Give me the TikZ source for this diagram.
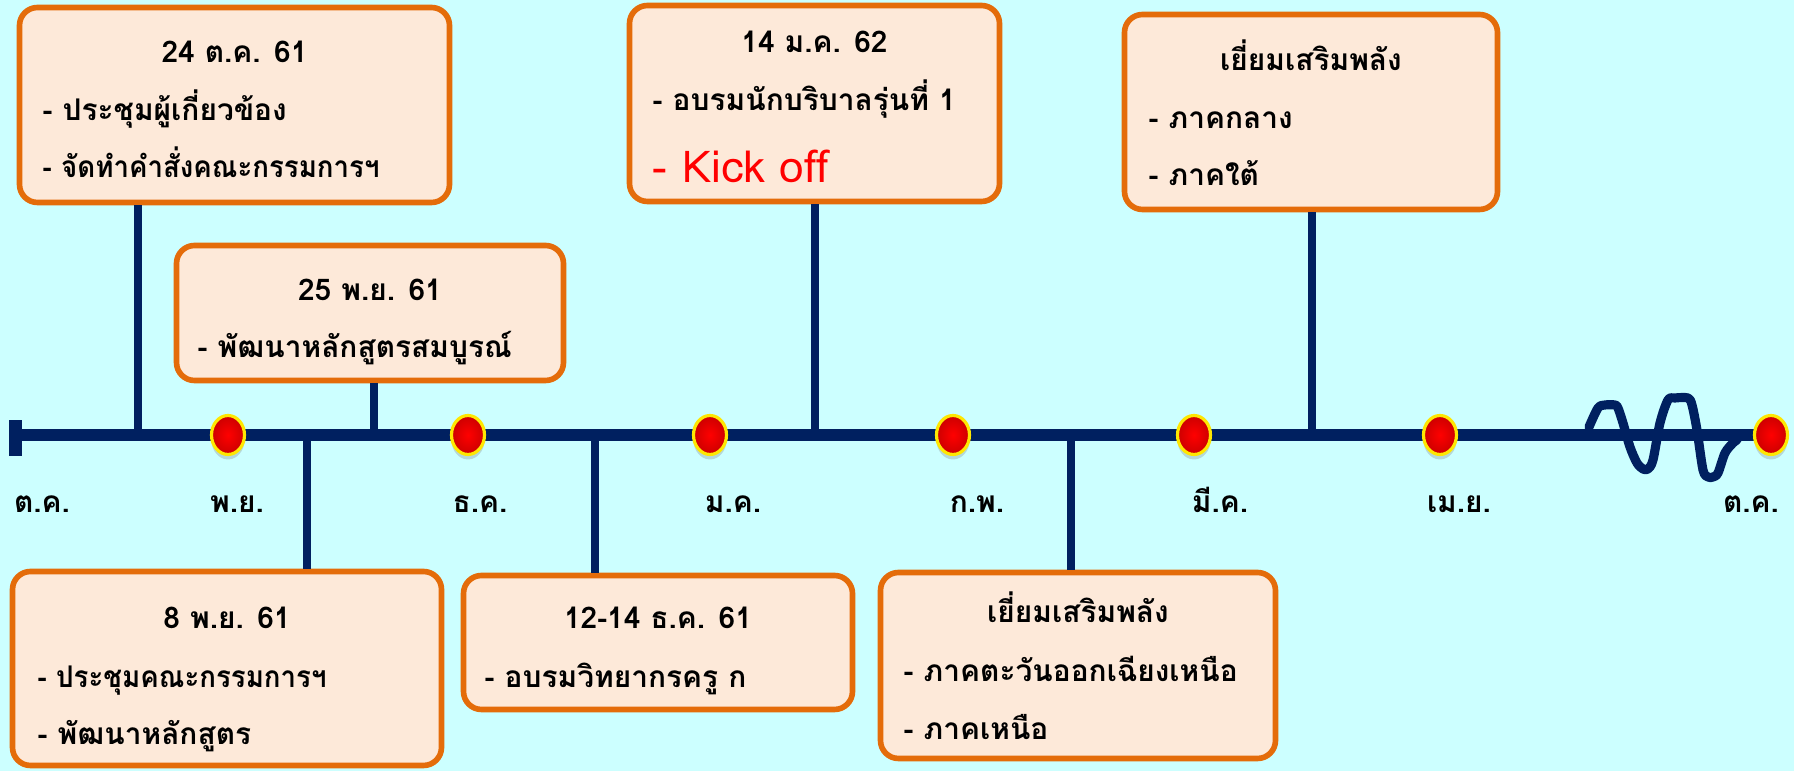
\documentclass[tikz,border=0pt]{standalone}
\usepackage{fontspec}
\newfontfamily\thaifont[Script=Thai]{Loma}
\usetikzlibrary{shapes.geometric, shadows}
\definecolor{bgcyan}{HTML}{CCFFFF}
\definecolor{boxfill}{HTML}{FDE9D9}
\definecolor{boxline}{HTML}{E46C0A}
\definecolor{navy}{HTML}{002060}
\newcommand\narrowtxt{\addfontfeatures{FakeStretch=0.925}}

\begin{document}
\begin{tikzpicture}[
  font=\thaifont\bfseries\fontsize{8.5}{10}\selectfont,
  evbox/.style={draw=boxline, fill=boxfill, line width=1.6pt, rounded corners=0.18cm, inner sep=0},
  txt/.style={inner sep=0, anchor=base},
  itm/.style={inner sep=0, anchor=base west},
  stem/.style={draw=navy, line width=2.4pt},
  dot/.style={ellipse, draw=yellow!90!orange, line width=0.9pt, inner color=red, outer color=red!80!black,
    minimum width=0.33cm, minimum height=0.39cm, inner sep=0,
    drop shadow={shadow xshift=0cm, shadow yshift=-0.05cm, opacity=0.3}},
]
\fill[bgcyan] (0,0) rectangle (17.94,7.71);
\useasboundingbox (0,0) rectangle (17.94,7.71);

% boxes
\node[evbox, minimum width=4.30cm, minimum height=1.95cm] (b1) at (2.345,6.66) {};
\node[evbox, minimum width=3.87cm, minimum height=1.35cm] (b2) at (3.70,4.58) {};
\node[evbox, minimum width=3.70cm, minimum height=1.96cm] (b3) at (8.145,6.675) {};
\node[evbox, minimum width=3.73cm, minimum height=1.95cm] (b4) at (13.11,6.59) {};
\node[evbox, minimum width=4.29cm, minimum height=1.94cm] (b5) at (2.27,1.025) {};
\node[evbox, minimum width=3.89cm, minimum height=1.34cm] (b6) at (6.58,1.285) {};
\node[evbox, minimum width=3.95cm, minimum height=1.86cm] (b7) at (10.78,1.055) {};

\node[txt] (b1t) at (2.345,7.08) {24 ต.ค. 61};
\node[itm] (b1a) at (0.42,6.50) {- ประชุมผู้เกี่ยวข้อง};
\node[itm] (b1b) at (0.42,5.93) {\narrowtxt - จัดทำคำสั่งคณะกรรมการฯ};

\node[txt] (b2t) at (3.70,4.70) {25 พ.ย. 61};
\node[itm] (b2a) at (1.97,4.13) {- พัฒนาหลักสูตรสมบูรณ์};

\node[txt] (b3t) at (8.145,7.18) {14 ม.ค. 62};
\node[itm] (b3a) at (6.52,6.60) {- อบรมนักบริบาลรุ่นที่ 1};
\node[itm, text=red, font=\thaifont\mdseries\fontsize{12.5}{14}\selectfont] (b3b) at (6.52,5.88) {- Kick off};

\node[txt] (b4t) at (13.11,7.00) {เยี่ยมเสริมพลัง};
\node[itm] (b4a) at (11.48,6.42) {- ภาคกลาง};
\node[itm] (b4b) at (11.48,5.85) {- ภาคใต้};

\node[txt] (b5t) at (2.27,1.42) {8 พ.ย. 61};
\node[itm] (b5a) at (0.37,0.83) {\narrowtxt - ประชุมคณะกรรมการฯ};
\node[itm] (b5b) at (0.37,0.26) {- พัฒนาหลักสูตร};

\node[txt] (b6t) at (6.58,1.42) {12-14 ธ.ค. 61};
\node[itm] (b6a) at (4.84,0.83) {- อบรมวิทยากรครู ก};

\node[txt] (b7t) at (10.78,1.48) {เยี่ยมเสริมพลัง};
\node[itm] (b7a) at (9.03,0.89) {- ภาคตะวันออกเฉียงเหนือ};
\node[itm] (b7b) at (9.03,0.31) {- ภาคเหนือ};

% time line
\coordinate (start) at (0.155,3.36);
\coordinate (end) at (17.71,3.36);
\foreach \x [count=\i] in {1.38,3.74,8.15,13.12,3.07,5.95,10.71}
  \coordinate (s\i) at (\x,3.36);
\draw[stem] (s1 |- b1.south) -- (s1);
\draw[stem] (s2 |- b2.south) -- (s2);
\draw[stem] (s3 |- b3.south) -- (s3);
\draw[stem] (s4 |- b4.south) -- (s4);
\draw[stem] (s5) -- (s5 |- b5.north);
\draw[stem] (s6) -- (s6 |- b6.north);
\draw[stem] (s7) -- (s7 |- b7.north);
\draw[navy, line width=3.4pt] (start) -- (end);
\fill[navy] (0.09,3.15) rectangle (0.22,3.51);

% break mark
\draw[navy, line width=2.6pt, line cap=round, line join=round] plot[smooth, tension=0.5] coordinates {
  (15.89,3.44) (15.98,3.63) (16.05,3.66) (16.15,3.66) (16.18,3.63) (16.23,3.48) (16.30,3.24)
  (16.37,3.08) (16.43,3.02) (16.48,3.02) (16.53,3.11) (16.60,3.48) (16.68,3.71) (16.75,3.73)
  (16.88,3.73) (16.92,3.66) (16.97,3.41) (17.03,3.01) (17.08,2.94) (17.13,2.94) (17.18,2.98)
  (17.25,3.18) (17.33,3.28) (17.37,3.31)};

\foreach \x [count=\i] in {2.28,4.68,7.10,9.53,11.94,14.40,17.71}
  \node[dot] (d\i) at (\x,3.36) {};

\foreach \x/\m [count=\i] in {0.42/ต.ค., 2.37/พ.ย., 4.80/ธ.ค., 7.33/ม.ค., 9.77/ก.พ., 12.20/มี.ค., 14.59/เม.ย., 17.51/ต.ค.}
  \node[txt] (m\i) at (\x,2.58) {\m};
\end{tikzpicture}
\end{document}
